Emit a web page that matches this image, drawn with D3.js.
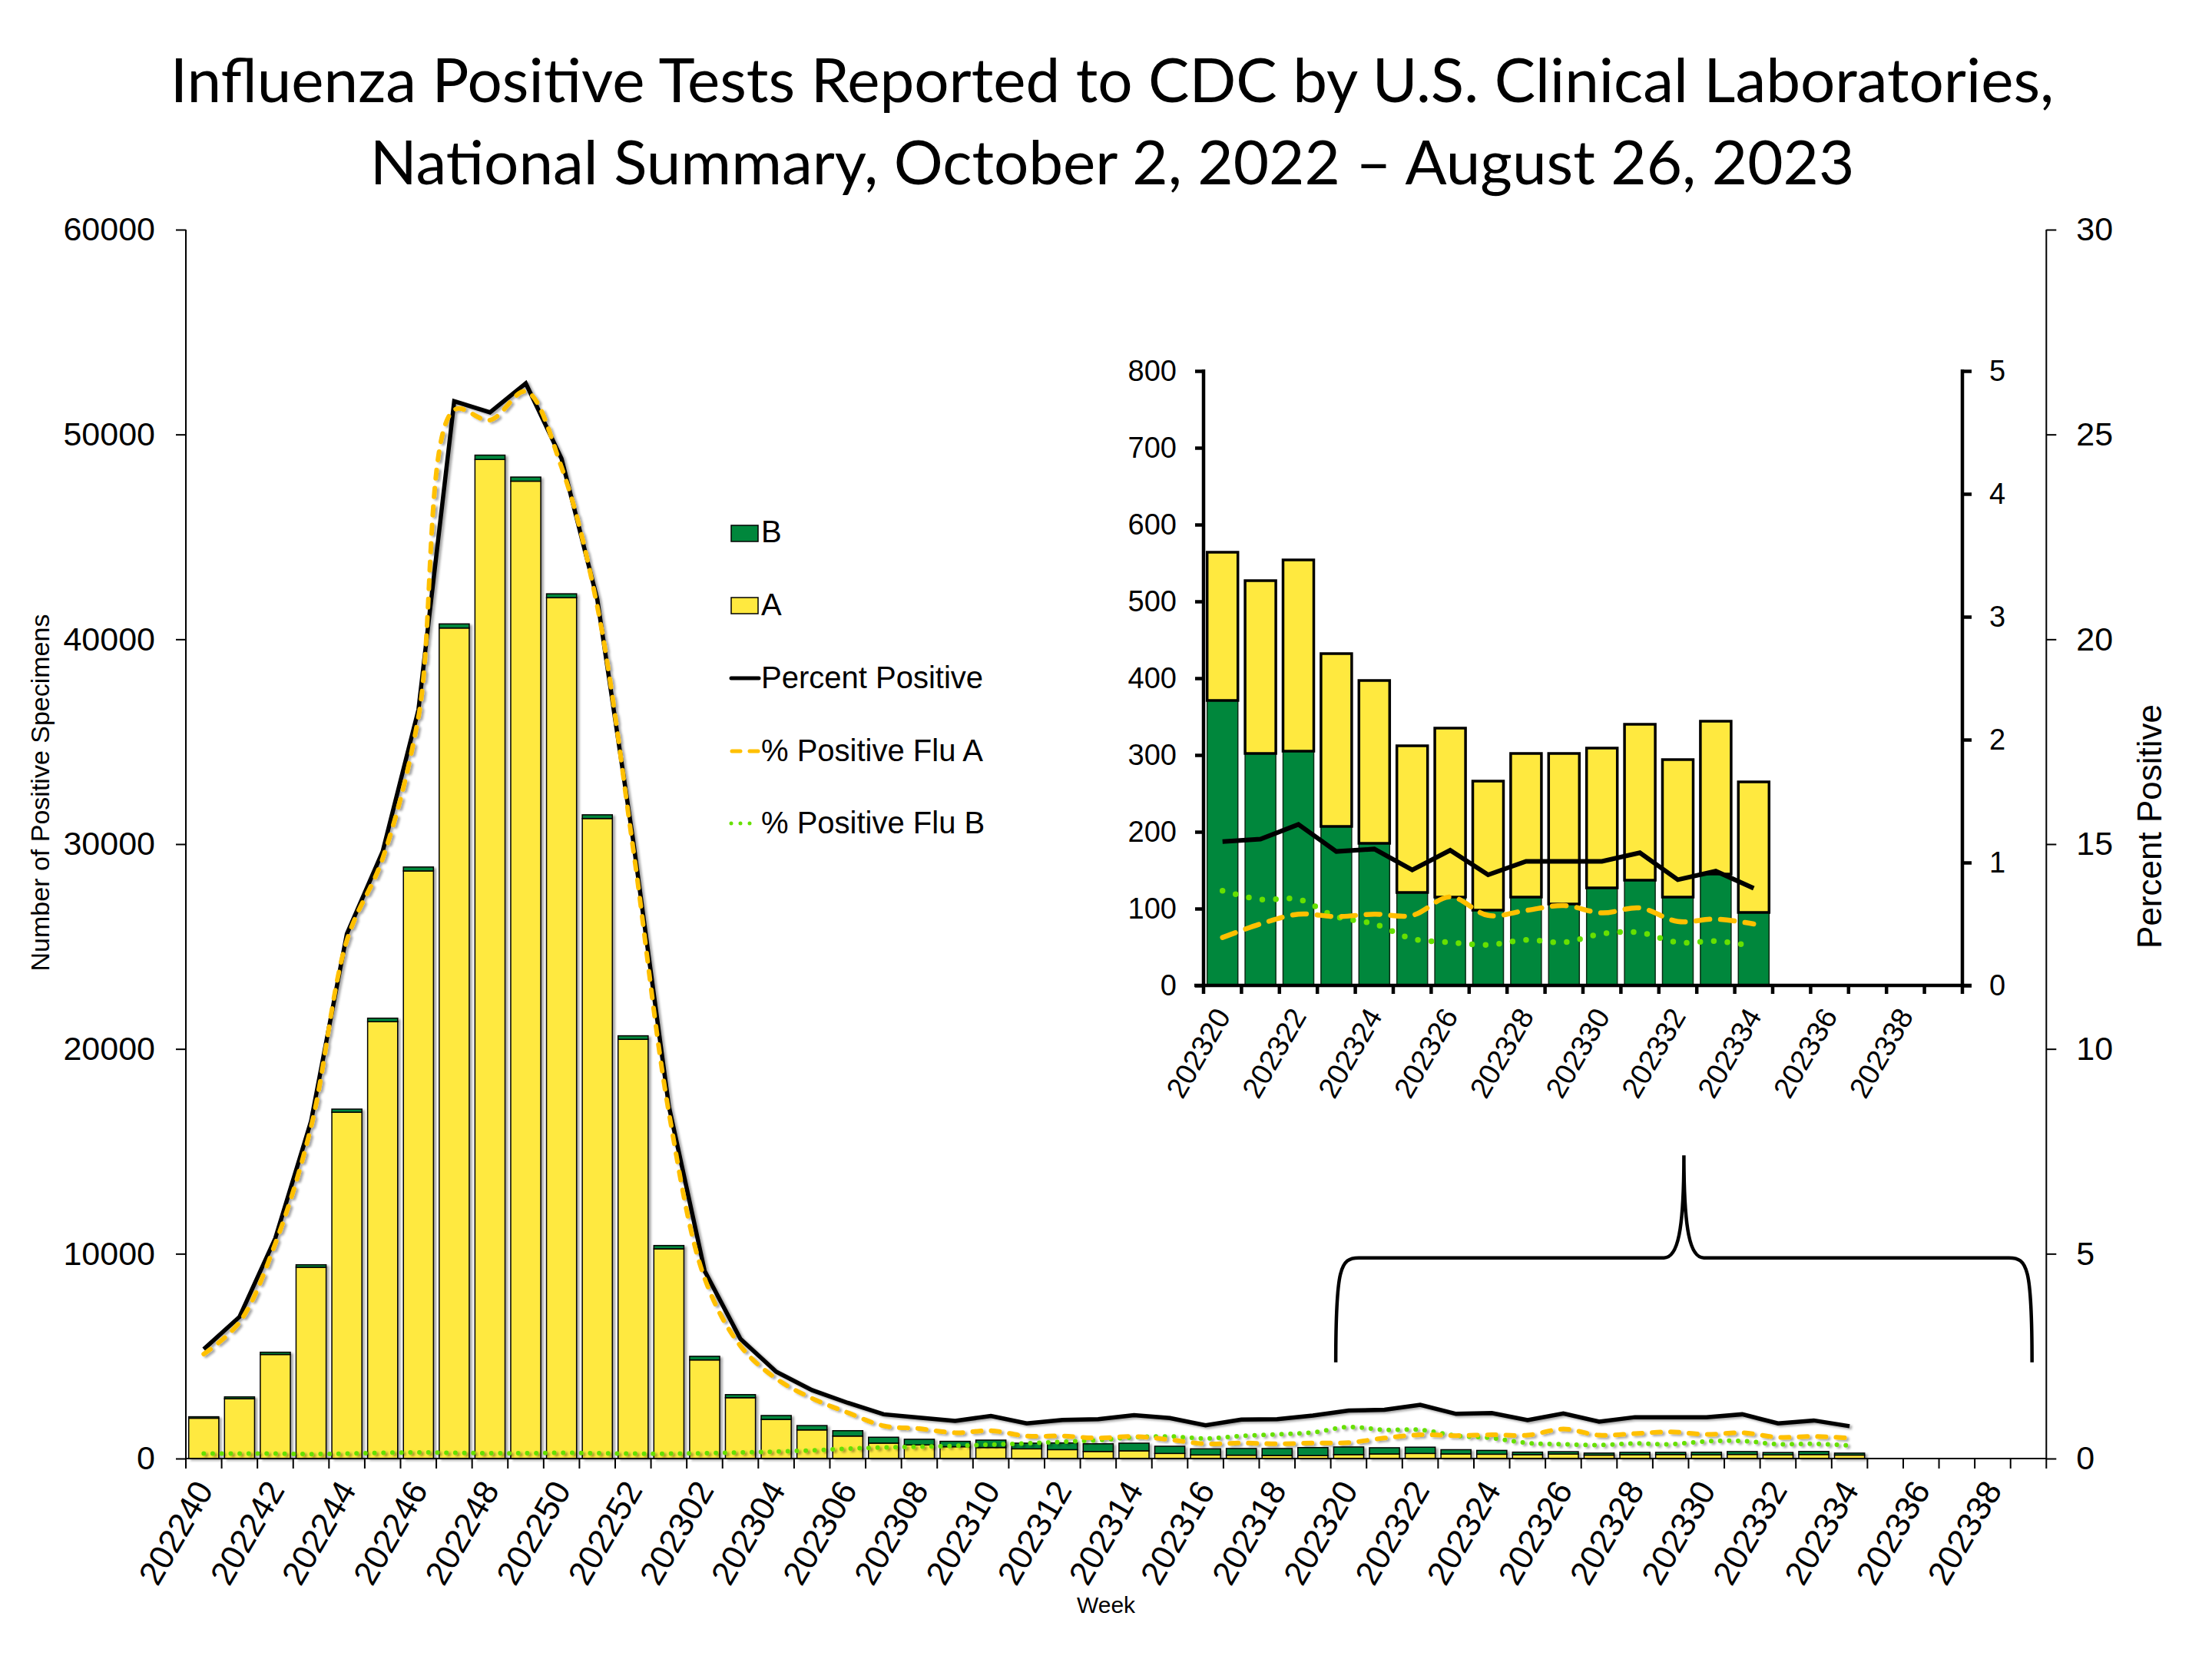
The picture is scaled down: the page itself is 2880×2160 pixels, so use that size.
<!DOCTYPE html>
<html>
<head>
<meta charset="utf-8">
<script src="https://cdn.jsdelivr.net/npm/d3@7"></script>
<style>
  body { margin: 0; background: #fff; }
  svg { display: block; }
  text { font-family: "Liberation Sans", Arial, sans-serif; fill: #000; }
</style>
</head>
<body>
<div id="chart"></div>
<script>
// week codes on the category axis (season 2022-23)
var weeks = ["202240","202241","202242","202243","202244","202245","202246","202247","202248","202249",
  "202250","202251","202252","202301","202302","202303","202304","202305","202306","202307",
  "202308","202309","202310","202311","202312","202313","202314","202315","202316","202317",
  "202318","202319","202320","202321","202322","202323","202324","202325","202326","202327",
  "202328","202329","202330","202331","202332","202333","202334","202335","202336","202337",
  "202338","202339"];

// positive specimens (weeks 202240 .. 202334)
var fluA = [1970, 2920, 5080, 9340, 16910, 21330, 28690, 40550, 48780, 47720,
  42030, 31250, 20470, 10240, 4815, 2970, 1913, 1398, 1098, 753,
  666, 578, 538, 475, 435, 346, 376, 250, 176, 165,
  153, 148, 193, 225, 249, 225, 212, 191, 220, 168,
  187, 196, 182, 203, 179, 199, 170];
var fluB = [70, 90, 110, 120, 150, 170, 190, 200, 210, 200,
  190, 180, 170, 160, 175, 150, 187, 212, 262, 287,
  274, 262, 362, 275, 325, 374, 374, 350, 299, 325,
  337, 387, 371, 302, 305, 207, 185, 121, 115, 98,
  115, 106, 127, 137, 115, 145, 95];

// percent positive lines (right axis)
var pctPositive = [2.67, 3.46, 5.38, 8.24, 12.81, 14.82, 18.28, 25.81, 25.54, 26.25,
  24.41, 20.97, 15.1, 8.6, 4.58, 2.92, 2.12, 1.67, 1.36, 1.08,
  1.00, 0.92, 1.04, 0.86, 0.94, 0.96, 1.06, 0.99, 0.81, 0.95,
  0.96, 1.05, 1.17, 1.19, 1.31, 1.09, 1.11, 0.94, 1.10, 0.90,
  1.01, 1.01, 1.01, 1.08, 0.86, 0.93, 0.79];
var pctFluA = [2.55, 3.33, 5.25, 8.1, 12.65, 14.65, 18.1, 25.6, 25.35, 26.05,
  24.2, 20.8, 14.9, 8.45, 4.4, 2.75, 1.95, 1.47, 1.12, 0.8,
  0.73, 0.63, 0.68, 0.55, 0.55, 0.5, 0.54, 0.46, 0.36, 0.38,
  0.36, 0.38, 0.39, 0.50, 0.58, 0.56, 0.58, 0.57, 0.72, 0.57,
  0.61, 0.65, 0.59, 0.63, 0.52, 0.54, 0.50];
var pctFluB = [0.12, 0.12, 0.12, 0.11, 0.12, 0.14, 0.15, 0.14, 0.13, 0.13,
  0.14, 0.13, 0.12, 0.12, 0.13, 0.15, 0.17, 0.2, 0.24, 0.27,
  0.29, 0.31, 0.34, 0.37, 0.41, 0.45, 0.52, 0.54, 0.49, 0.55,
  0.59, 0.64, 0.77, 0.70, 0.70, 0.56, 0.50, 0.38, 0.35, 0.33,
  0.37, 0.35, 0.42, 0.43, 0.35, 0.36, 0.32];

// axis ticks
var countTicks = [0, 10000, 20000, 30000, 40000, 50000, 60000];
var pctTicks = [0, 5, 10, 15, 20, 25, 30];
var insetCountTicks = [0, 100, 200, 300, 400, 500, 600, 700, 800];
var insetPctTicks = [0, 1, 2, 3, 4, 5];
var insetFirstWeek = "202320";

var colorA = "#FFE93F", colorB = "#00873C", colorFluA = "#FFC000", colorFluB = "#66E000";

var data = fluA.map(function(a, i) {
  return { week: weeks[i], a: a, b: fluB[i], pos: pctPositive[i], pa: pctFluA[i], pb: pctFluB[i] };
});

var W = 2880, H = 2160;
var svg = d3.select("#chart").append("svg")
  .attr("width", W)
  .attr("height", H);

var defs = svg.append("defs");
defs.append("filter")
  .attr("id", "shadow")
  .attr("x", "-20%").attr("y", "-20%").attr("width", "140%").attr("height", "140%")
  .append("feDropShadow")
  .attr("dx", 3).attr("dy", 2).attr("stdDeviation", 1.5)
  .attr("flood-color", "#000").attr("flood-opacity", 0.35);

// title
var title = svg.append("g").attr("font-size", 80);
title.append("text").attr("x", 1448).attr("y", 133).attr("text-anchor", "middle")
  .style("font-family", "Lato, 'Open Sans', sans-serif")
  .text("Influenza Positive Tests Reported to CDC by U.S. Clinical Laboratories,");
title.append("text").attr("x", 1448).attr("y", 240).attr("text-anchor", "middle")
  .style("font-family", "Lato, 'Open Sans', sans-serif")
  .text("National Summary, October 2, 2022 \u2013 August 26, 2023");

// ---------- main chart ----------
var plot = { left: 242, right: 2664.3, top: 299, bottom: 1899 };

var xMain = d3.scaleBand()
  .domain(weeks)
  .range([plot.left, plot.right])
  .paddingInner(0.16)
  .paddingOuter(0.08);

var yCount = d3.scaleLinear().domain([0, 60000]).range([plot.bottom, plot.top]);
var yPct = d3.scaleLinear().domain([0, 30]).range([plot.bottom, plot.top]);

// bars: A at the bottom, B stacked on top
var bars = svg.append("g").attr("filter", "url(#shadow)");
bars.selectAll(".barA")
  .data(data)
  .enter().append("rect")
  .attr("class", "barA")
  .attr("x", function(d) { return xMain(d.week); })
  .attr("width", xMain.bandwidth())
  .attr("y", function(d) { return yCount(d.a); })
  .attr("height", function(d) { return yCount(0) - yCount(d.a); })
  .attr("fill", colorA)
  .attr("stroke", "#000")
  .attr("stroke-width", 1.5);
bars.selectAll(".barB")
  .data(data)
  .enter().append("rect")
  .attr("class", "barB")
  .attr("x", function(d) { return xMain(d.week); })
  .attr("width", xMain.bandwidth())
  .attr("y", function(d) { return yCount(d.a + d.b); })
  .attr("height", function(d) { return yCount(d.a) - yCount(d.a + d.b); })
  .attr("fill", colorB)
  .attr("stroke", "#000")
  .attr("stroke-width", 1.5);

function lineFor(xs, ys, key, curve) {
  return d3.line()
    .x(function(d) { return xs(d.week) + xs.bandwidth() / 2; })
    .y(function(d) { return ys(d[key]); })
    .curve(curve);
}

var lines = svg.append("g").attr("filter", "url(#shadow)").attr("fill", "none");
lines.append("path").datum(data)
  .attr("d", lineFor(xMain, yPct, "pb", d3.curveCatmullRom))
  .attr("stroke", colorFluB).attr("stroke-width", 6)
  .attr("stroke-linecap", "round").attr("stroke-dasharray", "0 11.7");
lines.append("path").datum(data)
  .attr("d", lineFor(xMain, yPct, "pos", d3.curveLinear))
  .attr("stroke", "#000").attr("stroke-width", 5.5);
lines.append("path").datum(data)
  .attr("d", lineFor(xMain, yPct, "pa", d3.curveCatmullRom))
  .attr("stroke", colorFluA).attr("stroke-width", 6)
  .attr("stroke-linecap", "round").attr("stroke-dasharray", "11 13");

// axes
var step = xMain.step();
var axes = svg.append("g").attr("stroke", "#000").attr("stroke-width", 2);
axes.append("line").attr("x1", plot.left).attr("x2", plot.left).attr("y1", plot.top).attr("y2", plot.bottom);
axes.append("line").attr("x1", plot.right).attr("x2", plot.right).attr("y1", plot.top).attr("y2", plot.bottom);
axes.append("line").attr("x1", plot.left).attr("x2", plot.right).attr("y1", plot.bottom).attr("y2", plot.bottom);
axes.selectAll(".btick")
  .data(d3.range(weeks.length + 1))
  .enter().append("line")
  .attr("x1", function(i) { return plot.left + i * step; })
  .attr("x2", function(i) { return plot.left + i * step; })
  .attr("y1", plot.bottom)
  .attr("y2", plot.bottom + 13);

var xAxis = svg.append("g")
  .attr("class", "axis")
  .attr("transform", "translate(0," + plot.bottom + ")")
  .call(d3.axisBottom(xMain)
    .tickValues(weeks.filter(function(d, i) { return i % 2 === 0; }))
    .tickSize(0));
xAxis.selectAll("text")
  .attr("x", 0).attr("y", 0).attr("dy", "0.35em")
  .attr("text-anchor", "end")
  .attr("transform", "translate(0,33) rotate(-60)")
  .attr("font-size", 44);

var yAxisL = svg.append("g")
  .attr("class", "axis")
  .attr("transform", "translate(" + plot.left + ",0)")
  .call(d3.axisLeft(yCount).tickValues(countTicks).tickFormat(d3.format("d")).tickSize(13).tickPadding(27));
yAxisL.selectAll("text").attr("font-size", 43);

var yAxisR = svg.append("g")
  .attr("class", "axis")
  .attr("transform", "translate(" + plot.right + ",0)")
  .call(d3.axisRight(yPct).tickValues(pctTicks).tickFormat(d3.format("d")).tickSize(13).tickPadding(26));
yAxisR.selectAll("text").attr("font-size", 43);

svg.selectAll(".axis .domain").remove();
svg.selectAll(".axis .tick line").attr("stroke", "#000").attr("stroke-width", 2);

svg.append("text")
  .attr("transform", "translate(64,1032) rotate(-90)")
  .attr("text-anchor", "middle").attr("font-size", 34)
  .text("Number of Positive Specimens");
svg.append("text")
  .attr("transform", "translate(2814,1076) rotate(-90)")
  .attr("text-anchor", "middle").attr("font-size", 44)
  .text("Percent Positive");
svg.append("text")
  .attr("x", 1440).attr("y", 2100)
  .attr("text-anchor", "middle").attr("font-size", 30)
  .text("Week");

// legend
var legend = svg.append("g").attr("font-size", 40);
legend.append("rect").attr("x", 952).attr("y", 684).attr("width", 35).attr("height", 21)
  .attr("fill", colorB).attr("stroke", "#000").attr("stroke-width", 1.5);
legend.append("text").attr("x", 991).attr("y", 706).text("B");
legend.append("rect").attr("x", 952).attr("y", 778).attr("width", 35).attr("height", 21)
  .attr("fill", colorA).attr("stroke", "#000").attr("stroke-width", 1.5);
legend.append("text").attr("x", 991).attr("y", 801).text("A");
legend.append("line").attr("x1", 952).attr("x2", 988).attr("y1", 883).attr("y2", 883)
  .attr("stroke", "#000").attr("stroke-width", 5).attr("stroke-linecap", "round");
legend.append("text").attr("x", 991).attr("y", 896).text("Percent Positive");
legend.append("line").attr("x1", 953).attr("x2", 988).attr("y1", 978).attr("y2", 978)
  .attr("stroke", colorFluA).attr("stroke-width", 5).attr("stroke-linecap", "round")
  .attr("stroke-dasharray", "11 12");
legend.append("text").attr("x", 991).attr("y", 991).text("% Positive Flu A");
legend.append("line").attr("x1", 952).attr("x2", 977).attr("y1", 1072).attr("y2", 1072)
  .attr("stroke", colorFluB).attr("stroke-width", 5).attr("stroke-linecap", "round")
  .attr("stroke-dasharray", "0 12");
legend.append("text").attr("x", 991).attr("y", 1085).text("% Positive Flu B");

// brace marking the zoomed weeks
var bl = plot.left + 32.14 * step, br = plot.left + 51.6 * step, bc = (bl + br) / 2;
var yb = yPct(2.35), yh = yPct(4.9), yp = yPct(7.4);
svg.append("path")
  .attr("d", "M" + bl + "," + yb +
    "C" + bl + "," + (yh + 12) + " " + (bl + 6) + "," + yh + " " + (bl + 30) + "," + yh +
    "L" + (bc - 26) + "," + yh +
    "C" + (bc - 8) + "," + yh + " " + bc + "," + (yh - 35) + " " + bc + "," + yp +
    "C" + bc + "," + (yh - 35) + " " + (bc + 8) + "," + yh + " " + (bc + 26) + "," + yh +
    "L" + (br - 30) + "," + yh +
    "C" + (br - 6) + "," + yh + " " + br + "," + (yh + 12) + " " + br + "," + yb)
  .attr("fill", "none").attr("stroke", "#000").attr("stroke-width", 4.5);

// ---------- inset (last weeks) ----------
var inset = { left: 1567, right: 2555, top: 483, bottom: 1283 };
var insetWeeks = weeks.filter(function(w) { return w >= insetFirstWeek; });
var insetData = data.filter(function(d) { return d.week >= insetFirstWeek; });

var xIn = d3.scaleBand()
  .domain(insetWeeks)
  .range([inset.left, inset.right])
  .paddingInner(0.19)
  .paddingOuter(0.095);
var yIn = d3.scaleLinear().domain([0, 800]).range([inset.bottom, inset.top]);
var yInPct = d3.scaleLinear().domain([0, 5]).range([inset.bottom, inset.top]);

var ig = svg.append("g");
// inset stacks B at the bottom, A on top
ig.selectAll(".inB")
  .data(insetData)
  .enter().append("rect")
  .attr("class", "inB")
  .attr("x", function(d) { return xIn(d.week); })
  .attr("width", xIn.bandwidth())
  .attr("y", function(d) { return yIn(d.b); })
  .attr("height", function(d) { return yIn(0) - yIn(d.b); })
  .attr("fill", colorB).attr("stroke", "#0a2a14").attr("stroke-width", 1.5);
ig.selectAll(".inA")
  .data(insetData)
  .enter().append("rect")
  .attr("class", "inA")
  .attr("x", function(d) { return xIn(d.week); })
  .attr("width", xIn.bandwidth())
  .attr("y", function(d) { return yIn(d.a + d.b); })
  .attr("height", function(d) { return yIn(d.b) - yIn(d.a + d.b); })
  .attr("fill", colorA).attr("stroke", "#000").attr("stroke-width", 3.5);

var il = ig.append("g").attr("fill", "none");
il.append("path").datum(insetData)
  .attr("d", lineFor(xIn, yInPct, "pb", d3.curveCatmullRom))
  .attr("stroke", colorFluB).attr("stroke-width", 7.5)
  .attr("stroke-linecap", "round").attr("stroke-dasharray", "0 17.7");
il.append("path").datum(insetData)
  .attr("d", lineFor(xIn, yInPct, "pa", d3.curveCatmullRom))
  .attr("stroke", colorFluA).attr("stroke-width", 6.5)
  .attr("stroke-linecap", "round").attr("stroke-dasharray", "18 14");
il.append("path").datum(insetData)
  .attr("d", lineFor(xIn, yInPct, "pos", d3.curveLinear))
  .attr("stroke", "#000").attr("stroke-width", 6);

var istep = xIn.step();
var iaxes = ig.append("g").attr("stroke", "#000").attr("stroke-width", 4.5);
iaxes.append("line").attr("x1", inset.left).attr("x2", inset.left).attr("y1", inset.top - 2).attr("y2", inset.bottom);
iaxes.append("line").attr("x1", inset.right).attr("x2", inset.right).attr("y1", inset.top - 2).attr("y2", inset.bottom);
iaxes.append("line").attr("x1", inset.left - 12).attr("x2", inset.right + 12).attr("y1", inset.bottom).attr("y2", inset.bottom);
iaxes.selectAll(".ibt")
  .data(d3.range(insetWeeks.length + 1))
  .enter().append("line")
  .attr("x1", function(i) { return inset.left + i * istep; })
  .attr("x2", function(i) { return inset.left + i * istep; })
  .attr("y1", inset.bottom)
  .attr("y2", inset.bottom + 11);

var ixAxis = ig.append("g")
  .attr("class", "axis")
  .attr("transform", "translate(0," + inset.bottom + ")")
  .call(d3.axisBottom(xIn)
    .tickValues(insetWeeks.filter(function(d, i) { return i % 2 === 0; }))
    .tickSize(0));
ixAxis.selectAll("text")
  .attr("x", 0).attr("y", 0).attr("dy", "0.35em")
  .attr("text-anchor", "end")
  .attr("transform", "translate(0,33) rotate(-60)")
  .attr("font-size", 38);

var iyL = ig.append("g")
  .attr("class", "axis")
  .attr("transform", "translate(" + inset.left + ",0)")
  .call(d3.axisLeft(yIn).tickValues(insetCountTicks).tickSize(11).tickPadding(24));
iyL.selectAll("text").attr("font-size", 38);

var iyR = ig.append("g")
  .attr("class", "axis")
  .attr("transform", "translate(" + inset.right + ",0)")
  .call(d3.axisRight(yInPct).tickValues(insetPctTicks).tickFormat(d3.format("d")).tickSize(12).tickPadding(23));
iyR.selectAll("text").attr("font-size", 38);

ig.selectAll(".axis .domain").remove();
iyL.selectAll(".tick line").attr("stroke", "#000").attr("stroke-width", 4.5);
iyR.selectAll(".tick line").attr("stroke", "#000").attr("stroke-width", 4.5);
</script>
</body>
</html>
